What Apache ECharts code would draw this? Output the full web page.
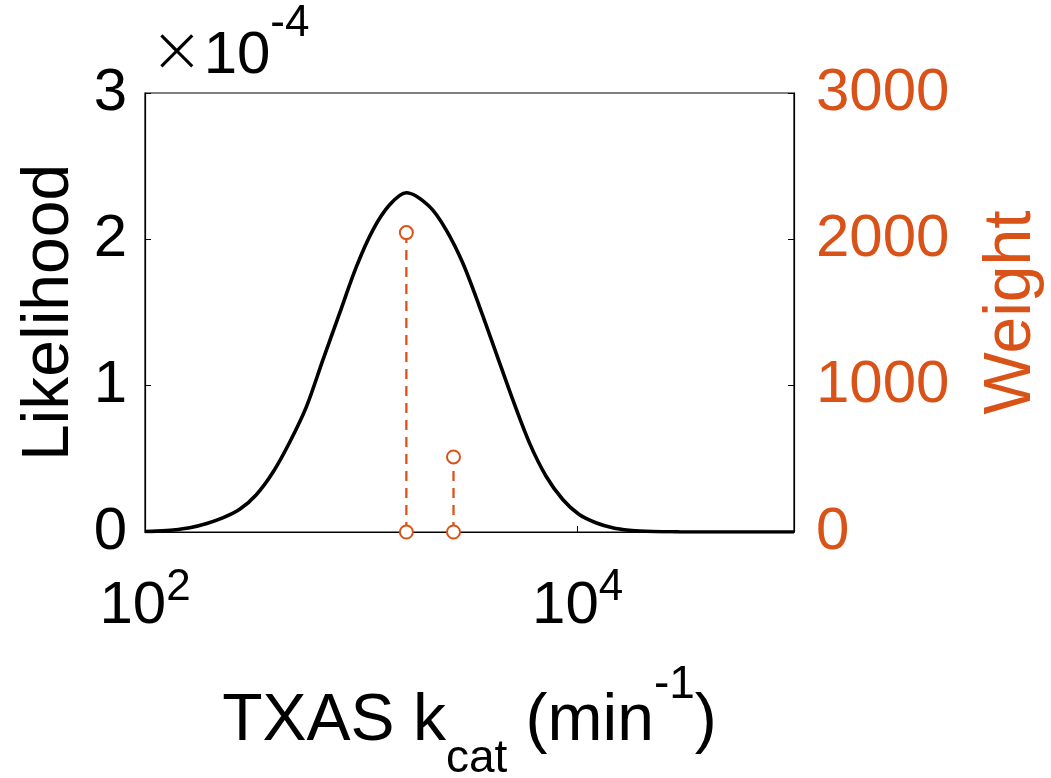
<!DOCTYPE html>
<html>
<head>
<meta charset="utf-8">
<script src="https://cdn.jsdelivr.net/npm/echarts@6/dist/echarts.min.js"></script>
<style>
html,body{margin:0;padding:0;background:#fff;}
#chart{width:1051px;height:778px;}
</style>
</head>
<body>
<div id="chart"></div>
<script>
// ---- data ----
// likelihood curve: kcat (min^-1) and likelihood (x1e-4)
const curveX = [100, 113, 135, 161, 193, 230, 274, 327, 391, 467, 557, 665, 794, 948, 1132, 1352, 1614, 2065, 2466, 2944, 3516, 4198, 5012, 5984, 7145, 8531, 10162, 12134, 14488, 17298, 20654, 24660, 29440, 50000, 100000];
const curveY = [0.003, 0.006, 0.014, 0.029, 0.058, 0.098, 0.155, 0.255, 0.41, 0.615, 0.855, 1.178, 1.496, 1.812, 2.065, 2.236, 2.318, 2.224, 2.065, 1.838, 1.541, 1.223, 0.904, 0.609, 0.381, 0.222, 0.119, 0.063, 0.029, 0.012, 0.005, 0.002, 0.001, 0.0, 0];
const curveScale = 1e-4;
// weights (stems)
const stemX = [1615, 2667];
const stemW = [2046, 513];
// ticks
const xTicks = [100, 10000];
const yLeftTicks = [0, 1, 2, 3];
const yRightTicks = [0, 1000, 2000, 3000];

const ORANGE = '#D95319';
const FONT = 'Liberation Sans, Arial, Helvetica, sans-serif';

const curveData = curveX.map((x, i) => [x, curveY[i] * curveScale]);
const stemSeries = stemX.map((x, i) => ({
  type: 'line',
  yAxisIndex: 1,
  data: [[x, 0], [x, stemW[i]]],
  symbol: 'emptyCircle',
  symbolSize: 13,
  showSymbol: true,
  itemStyle: { color: ORANGE, borderColor: ORANGE, borderWidth: 1.8 },
  lineStyle: { color: ORANGE, width: 2.3, type: [10, 7] },
  z: 3,
  animation: false
}));

const chart = echarts.init(document.getElementById('chart'), null, { renderer: 'canvas' });
chart.setOption({
  animation: false,
  backgroundColor: '#fff',
  textStyle: { fontFamily: FONT },
  grid: { left: 145, right: 257, top: 93, bottom: 246, containLabel: false, outerBoundsMode: 'none', show: true, borderColor: '#000', borderWidth: 1.2, backgroundColor: 'transparent' },
  xAxis: {
    type: 'log', logBase: 10, min: 100, max: 100000,
    position: 'bottom',
    axisLine: { show: true, lineStyle: { color: '#000', width: 1.2 } },
    axisTick: { show: true, inside: true, length: 6, customValues: xTicks, lineStyle: { color: '#000' } },
    splitLine: { show: false },
    minorTick: { show: false },
    axisLabel: {
      customValues: xTicks,
      margin: 34,
      formatter: function (v) {
        const e = Math.round(Math.log10(v));
        if (xTicks.indexOf(v) < 0 && xTicks.indexOf(Math.pow(10, e)) < 0) return '';
        return '{sp|\u200b}{b|10}{s|' + e + '}';
      },
      rich: {
        sp: { fontSize: 1, lineHeight: 70 },
        b: { fontSize: 60, fontFamily: FONT, color: '#000', lineHeight: 60, verticalAlign: 'bottom' },
        s: { fontSize: 44, fontFamily: FONT, color: '#000', lineHeight: 44, verticalAlign: 'top' }
      }
    },
    name: '{b|TXAS k}{sub|cat}{b| (min}{sup|-1}{b|)}{sp|\u200b}',
    nameLocation: 'middle',
    nameGap: 130,
    nameTextStyle: {
      rich: {
        sp: { fontSize: 1, lineHeight: 120 },
        b: { fontSize: 66, fontFamily: FONT, color: '#000', lineHeight: 66, verticalAlign: 'middle' },
        sub: { fontSize: 46, fontFamily: FONT, color: '#000', lineHeight: 46, verticalAlign: 'bottom' },
        sup: { fontSize: 46, fontFamily: FONT, color: '#000', lineHeight: 46, verticalAlign: 'top' }
      }
    }
  },
  yAxis: [
    {
      type: 'value', min: 0, max: 3e-4, interval: 1e-4, position: 'left',
      axisLine: { show: true, lineStyle: { color: '#000', width: 1.2 } },
      axisTick: { show: true, inside: true, length: 6, lineStyle: { color: '#000' } },
      splitLine: { show: false },
      axisLabel: {
        color: '#000', fontSize: 60, fontFamily: FONT, margin: 18,
        formatter: function (v) { const k = Math.round(v / curveScale); return yLeftTicks.indexOf(k) >= 0 ? String(k) : ''; }
      },
      name: 'Likelihood', nameLocation: 'middle', nameGap: 62,
      nameTextStyle: { fontSize: 66, fontFamily: FONT, color: '#000' }
    },
    {
      type: 'value', min: 0, max: 3000, interval: 1000, position: 'right',
      axisLine: { show: true, lineStyle: { color: '#000', width: 1.2 } },
      axisTick: { show: true, inside: true, length: 6, lineStyle: { color: '#000' } },
      splitLine: { show: false },
      axisLabel: {
        color: ORANGE, fontSize: 60, fontFamily: FONT, margin: 22,
        formatter: function (v) { return yRightTicks.indexOf(Math.round(v)) >= 0 ? String(Math.round(v)) : ''; }
      },
      name: 'Weight', nameLocation: 'middle', nameGap: 185,
      nameTextStyle: { fontSize: 66, fontFamily: FONT, color: ORANGE }
    }
  ],
  graphic: [
    {
      type: 'text', left: 150, top: 2,
      style: {
        text: '{x|\u00d7}{b|10}{s|-4}{sp|\u200b}',
        rich: {
          sp: { fontSize: 1, lineHeight: 84 },
          x: { fontSize: 64, fontFamily: 'DejaVu Sans, ' + FONT, fill: '#000', lineHeight: 60, verticalAlign: 'bottom', fontWeight: 200 },
          b: { fontSize: 60, fontFamily: FONT, fill: '#000', lineHeight: 60, verticalAlign: 'bottom' },
          s: { fontSize: 44, fontFamily: FONT, fill: '#000', lineHeight: 44, verticalAlign: 'top' }
        }
      }
    }
  ],
  series: [
    {
      type: 'line', yAxisIndex: 0, data: curveData, smooth: 0.3,
      showSymbol: false, symbol: 'none',
      lineStyle: { color: '#000', width: 3.6 },
      z: 2, animation: false
    }
  ].concat(stemSeries)
});
</script>
</body>
</html>
